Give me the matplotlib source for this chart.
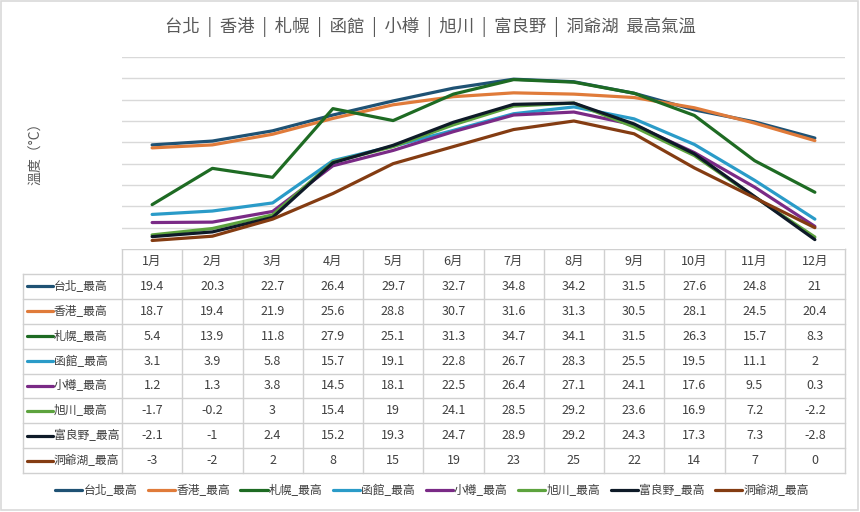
import matplotlib.pyplot as plt
from matplotlib.patches import Rectangle

plt.rcParams['font.family'] = ['Noto Sans CJK TC', 'DejaVu Sans']

months = ['1月', '2月', '3月', '4月', '5月', '6月', '7月', '8月', '9月', '10月', '11月', '12月']
names = ['台北_最高', '香港_最高', '札幌_最高', '函館_最高', '小樽_最高', '旭川_最高', '富良野_最高', '洞爺湖_最高']

taipei = [19.4, 20.3, 22.7, 26.4, 29.7, 32.7, 34.8, 34.2, 31.5, 27.6, 24.8, 21]
hongkong = [18.7, 19.4, 21.9, 25.6, 28.8, 30.7, 31.6, 31.3, 30.5, 28.1, 24.5, 20.4]
sapporo = [5.4, 13.9, 11.8, 27.9, 25.1, 31.3, 34.7, 34.1, 31.5, 26.3, 15.7, 8.3]
hakodate = [3.1, 3.9, 5.8, 15.7, 19.1, 22.8, 26.7, 28.3, 25.5, 19.5, 11.1, 2]
otaru = [1.2, 1.3, 3.8, 14.5, 18.1, 22.5, 26.4, 27.1, 24.1, 17.6, 9.5, 0.3]
asahikawa = [-1.7, -0.2, 3, 15.4, 19, 24.1, 28.5, 29.2, 23.6, 16.9, 7.2, -2.2]
furano = [-2.1, -1, 2.4, 15.2, 19.3, 24.7, 28.9, 29.2, 24.3, 17.3, 7.3, -2.8]
toya = [-3, -2, 2, 8, 15, 19, 23, 25, 22, 14, 7, 0]

series = [taipei, hongkong, sapporo, hakodate, otaru, asahikawa, furano, toya]
colors = ['#1F5274', '#E07B3A', '#1E6B23', '#2A9BC8', '#7A2A86', '#5DA33E', '#0E1A28', '#843C12']

W, H = 860, 512
fig = plt.figure(figsize=(W / 100, H / 100), dpi=100)

# plot area in pixels
x0, x1 = 122, 845
ytop, ybot = 57, 249
ax = fig.add_axes([x0 / W, 1 - ybot / H, (x1 - x0) / W, (ybot - ytop) / H])
xs = list(range(len(months)))
for vals, c, n in zip(series, colors, names):
    ax.plot(xs, vals, color=c, lw=2.3, label=n, solid_capstyle='round', zorder=3)
ax.set_xlim(-0.5, len(months) - 0.5)
ax.set_ylim(-5, 40)
ax.set_yticks(range(0, 41, 5))
ax.yaxis.grid(True, color='#D9D9D9', lw=1)
ax.set_xticks([])
ax.tick_params(left=False, labelleft=False)
for s in ax.spines.values():
    s.set_visible(False)

# overlay for table, title etc. in pixel coords
ov = fig.add_axes([0, 0, 1, 1], zorder=-1)
ov.set_xlim(0, W)
ov.set_ylim(H, 0)
ov.axis('off')
ov.add_patch(Rectangle((1, 1), W - 3, H - 3, fill=False, ec='#D9D9D9', lw=1.2))

ov.text(430, 27, '台北  |  香港  |  札幌  |  函館  |  小樽  |  旭川  |  富良野  |  洞爺湖  最高氣溫',
        ha='center', va='center', fontsize=12.5, color='#595959')
ov.text(36, 150, '溫度（°C）', rotation=90, ha='center', va='center', fontsize=10, color='#595959')

grid_c = '#D0D0D0'
col_w = (x1 - x0) / len(months)
row_top = 249
row_h = 24.9
nrows = len(names)
tbl_bot = row_top + row_h * (nrows + 1)
left = 23

# horizontal lines
ov.plot([x0, x1], [row_top, row_top], color=grid_c, lw=1)
for r in range(1, nrows + 2):
    y = row_top + r * row_h
    ov.plot([left, x1], [y, y], color=grid_c, lw=1)
# vertical lines
for i in range(len(months) + 1):
    xv = x0 + i * col_w
    ov.plot([xv, xv], [row_top, tbl_bot], color=grid_c, lw=1)
ov.plot([left, left], [row_top + row_h, tbl_bot], color=grid_c, lw=1)

for i, m in enumerate(months):
    ov.text(x0 + (i + 0.5) * col_w, row_top + row_h / 2, m, ha='center', va='center',
            fontsize=9, color='#404040')

for r, (vals, c, n) in enumerate(zip(series, colors, names)):
    yc = row_top + (r + 1.5) * row_h
    ov.plot([27, 53], [yc, yc], color=c, lw=2.3, solid_capstyle='round')
    ov.text(54, yc, n, ha='left', va='center', fontsize=8.5, color='#404040')
    for i, v in enumerate(vals):
        ov.text(x0 + (i + 0.5) * col_w, yc, f'{v:g}', ha='center', va='center',
                fontsize=9, color='#404040')

handles, labels = ax.get_legend_handles_labels()
leg = fig.legend(handles, labels, loc='center', bbox_to_anchor=(432 / W, 1 - 491 / H),
                 ncol=8, frameon=False, fontsize=8.5, handlelength=2.3, columnspacing=0.9,
                 handletextpad=0.1, labelcolor='#404040')

fig.savefig('out.png', dpi=100)
